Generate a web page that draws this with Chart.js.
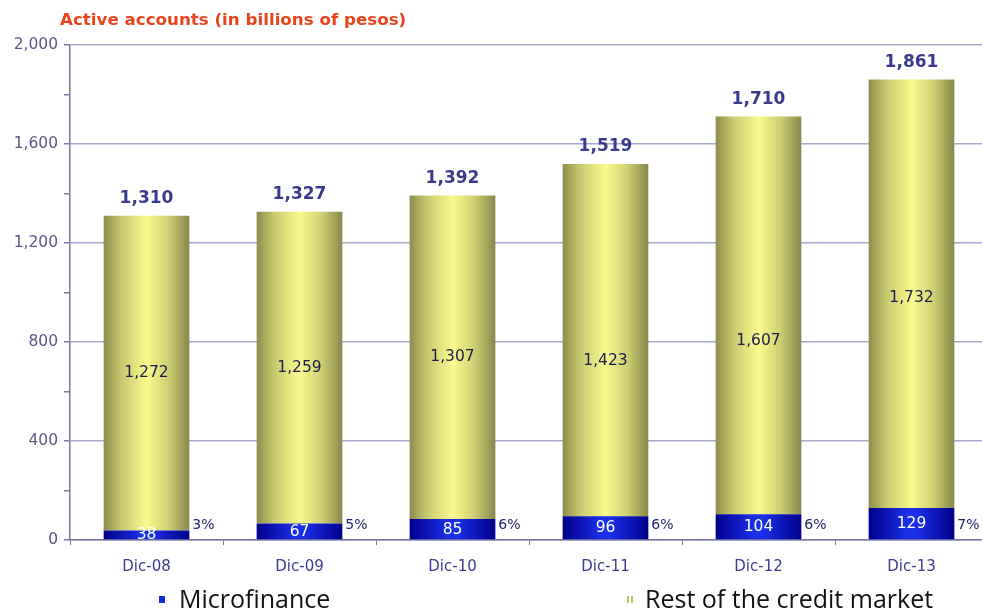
<!DOCTYPE html>
<html>
<head>
<meta charset="utf-8">
<script src="https://cdn.jsdelivr.net/npm/chart.js@4/dist/chart.umd.min.js"></script>
<style>
html,body{margin:0;padding:0;background:#fff;overflow:hidden;}
#wrap{position:relative;width:992px;height:614px;}
</style>
</head>
<body>
<div id="wrap"><canvas id="c" width="992" height="614"></canvas></div>
<script>
const categories = ['Dic-08','Dic-09','Dic-10','Dic-11','Dic-12','Dic-13'];
const microfinance = [38, 67, 85, 96, 104, 129];
const restOfMarket = [1272, 1259, 1307, 1423, 1607, 1732];
const totals = ['1,310','1,327','1,392','1,519','1,710','1,861'];
const shares = ['3%','5%','6%','6%','6%','7%'];
const seriesNames = ['Microfinance','Rest of the credit market'];
const titleText = 'Active accounts (in billions of pesos)';
const yTicks = [0, 400, 800, 1200, 1600, 2000];

const BAR_PCT = 0.56;
// label vertical nudges (px) as placed in the original slide
const REST_LABEL_NUDGE = [0, 0, 0, 21, 26, 4];

function barGradient(ctx, stops, fallback){
  const chart = ctx.chart;
  const xs = chart.scales && chart.scales.x;
  if (!chart.chartArea || !xs || ctx.dataIndex === undefined) return fallback;
  const cx = xs.getPixelForValue(ctx.dataIndex);
  const w = xs.width / categories.length * BAR_PCT;
  const g = chart.ctx.createLinearGradient(cx - w/2, 0, cx + w/2, 0);
  stops.forEach(s => g.addColorStop(s[0], s[1]));
  return g;
}

const blueStops = [[0,'#00008a'],[0.45,'#1a30e8'],[0.55,'#1a30e8'],[1,'#00008a']];
const yellowStops = [[0,'#8c8c4c'],[0.2,'#c8c870'],[0.5,'#fafa8e'],[0.75,'#d0d074'],[1,'#88884a']];

const labelPlugin = {
  id: 'labels',
  afterDatasetsDraw(chart){
    const ctx = chart.ctx;
    const m0 = chart.getDatasetMeta(0).data;
    const m1 = chart.getDatasetMeta(1).data;
    ctx.save();
    ctx.textAlign = 'center';
    ctx.textBaseline = 'middle';
    m0.forEach((el, i) => {
      ctx.font = '15.5px "DejaVu Sans"';
      ctx.fillStyle = '#ffffff';
      ctx.fillText(String(microfinance[i]), el.x, (el.y + el.base)/2 + 0.5);
      ctx.textAlign = 'left';
      ctx.font = '14px "DejaVu Sans"';
      ctx.fillStyle = '#24246a';
      ctx.fillText(shares[i], el.x + el.width/2 + 3, el.base - 14);
      ctx.textAlign = 'center';
    });
    m1.forEach((el, i) => {
      ctx.font = '15.5px "DejaVu Sans"';
      ctx.fillStyle = '#1c1c4e';
      ctx.fillText(restOfMarket[i].toLocaleString('en-US'), el.x, (el.y + el.base)/2 + REST_LABEL_NUDGE[i]);
      ctx.font = 'bold 17px "DejaVu Sans"';
      ctx.fillStyle = '#3a3a8e';
      ctx.fillText(totals[i], el.x, el.y - 17);
    });
    ctx.restore();
  },
  afterDraw(chart){
    const ctx = chart.ctx;
    ctx.save();
    // title
    ctx.font = 'bold 16.7px "DejaVu Sans"';
    ctx.fillStyle = '#e8441e';
    ctx.textAlign = 'left';
    ctx.textBaseline = 'middle';
    ctx.fillText(titleText, 60, 21);
    // legend
    ctx.font = '25px "Open Sans"';
    ctx.fillStyle = '#1030d8';
    ctx.fillRect(159, 596, 6, 7);
    ctx.fillStyle = '#111111';
    ctx.fillText(seriesNames[0], 179, 601);
    ctx.fillStyle = '#c4c45c';
    ctx.fillRect(627, 596, 2, 7);
    ctx.fillRect(631, 596, 2, 7);
    ctx.fillStyle = '#111111';
    ctx.fillText(seriesNames[1], 645, 601);
    ctx.restore();
  }
};

new Chart(document.getElementById('c'), {
  type: 'bar',
  data: {
    labels: categories,
    datasets: [
      {
        label: seriesNames[0],
        data: microfinance,
        backgroundColor: (c) => barGradient(c, blueStops, '#1020c0'),
        borderWidth: 0,
        barPercentage: BAR_PCT,
        categoryPercentage: 1
      },
      {
        label: seriesNames[1],
        data: restOfMarket,
        backgroundColor: (c) => barGradient(c, yellowStops, '#e0e080'),
        borderWidth: 0,
        barPercentage: BAR_PCT,
        categoryPercentage: 1
      }
    ]
  },
  options: {
    responsive: false,
    animation: false,
    devicePixelRatio: 1,
    layout: { padding: { left: 0, right: 4, top: 45, bottom: 34 } },
    plugins: {
      legend: { display: false },
      title: { display: false },
      tooltip: { enabled: false }
    },
    scales: {
      x: {
        stacked: true,
        grid: {
          offset: true,
          drawOnChartArea: false,
          drawTicks: true,
          tickLength: 5,
          tickColor: '#7878a4'
        },
        border: { color: '#7878a4', width: 1.5 },
        ticks: {
          color: '#3c3c94',
          font: { family: 'DejaVu Sans', size: 15 },
          padding: 13
        },
        afterFit(s){ s.height = 40; }
      },
      y: {
        stacked: true,
        min: 0,
        max: 2000,
        grid: {
          color: (c) => (c.tick && yTicks.includes(c.tick.value)) ? '#a8a8cc' : 'rgba(0,0,0,0)',
          lineWidth: 1.5,
          tickLength: 6,
          tickColor: '#7878a4'
        },
        border: { color: '#7878a4', width: 1.5 },
        ticks: {
          stepSize: 200,
          color: '#585888',
          font: { family: 'DejaVu Sans', size: 15.5 },
          padding: 6,
          callback: (v) => yTicks.includes(v) ? v.toLocaleString('en-US') : ''
        },
        afterFit(s){ s.width = 70; }
      }
    }
  },
  plugins: [labelPlugin]
});
</script>
</body>
</html>
